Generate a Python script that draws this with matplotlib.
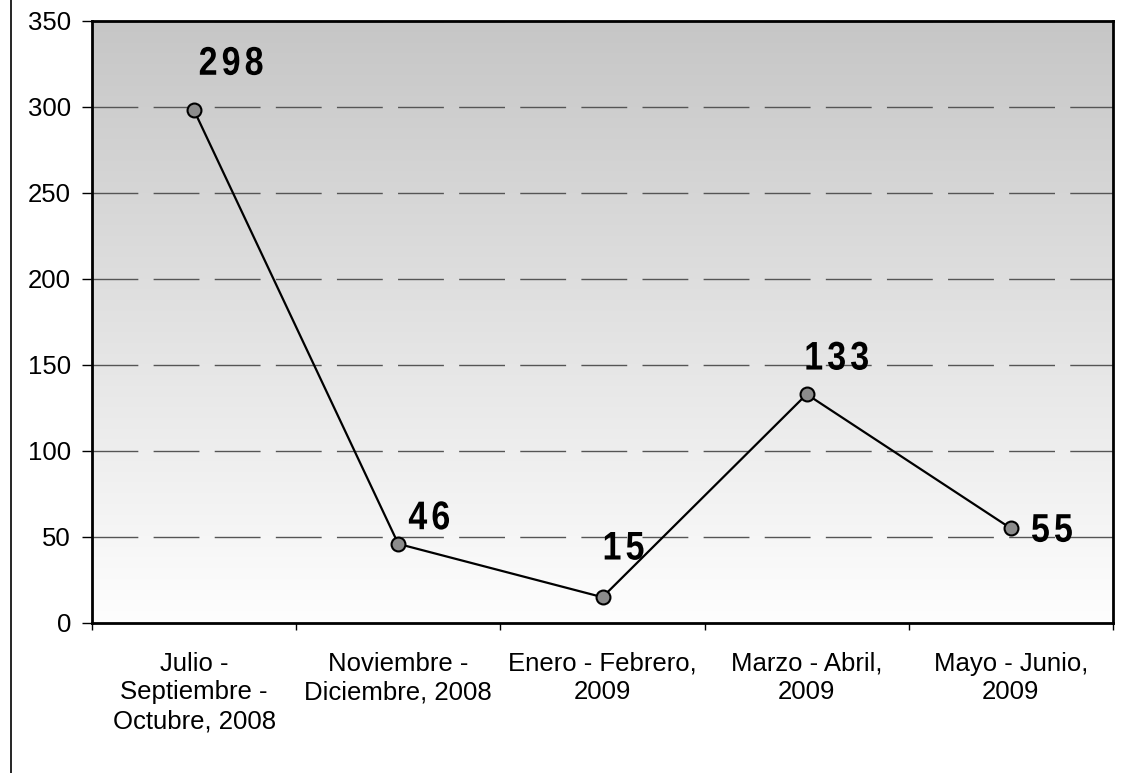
import numpy as np
import matplotlib
matplotlib.use("Agg")
import matplotlib.pyplot as plt
from matplotlib.lines import Line2D
from matplotlib.colors import LinearSegmentedColormap
from matplotlib.textpath import TextPath
from matplotlib.patches import PathPatch
from matplotlib.font_manager import FontProperties
from matplotlib.transforms import Affine2D, IdentityTransform

# ── Data ──────────────────────────────────────────────────────────────────────
categories = [
    "Julio -\nSeptiembre -\nOctubre, 2008",
    "Noviembre -\nDiciembre, 2008",
    "Enero - Febrero,\n2009",
    "Marzo - Abril,\n2009",
    "Mayo - Junio,\n2009",
]
values = [298, 46, 15, 133, 55]
# label centre offsets in pixels (dx right, dy up) relative to each point
label_offsets = [(37, 50), (31, 29), (21, 52), (30, 39), (41, 1)]

plt.rcParams["font.family"] = ["Liberation Sans", "DejaVu Sans"]

fig = plt.figure(figsize=(11.25, 7.73), dpi=100)
W, H = 1125, 773
left, right, top, bottom = 92, 1113, 21, 623
ax = fig.add_axes([left / W, 1 - bottom / H, (right - left) / W, (bottom - top) / H])

# gradient background (grey at top -> white at bottom)
cmap = LinearSegmentedColormap.from_list("bg", ["#fefefe", "#c6c6c6"])
grad = np.linspace(0, 1, 256).reshape(-1, 1)
ax.imshow(grad, cmap=cmap, aspect="auto", extent=[0, 1, 0, 1],
          origin="lower", transform=ax.transAxes, zorder=0)

ax.set_xlim(0, len(categories))
ax.set_ylim(0, 350)

# dashed gridlines
for yv in range(50, 351, 50):
    ax.axhline(yv, color="#555555", linewidth=1.0, dashes=(33, 11), zorder=1)

xs = np.arange(len(values)) + 0.5
ax.plot(xs, values, color="black", linewidth=1.6, zorder=3,
        marker="o", markersize=10, markerfacecolor="#8c8c8c",
        markeredgecolor="black", markeredgewidth=1.5)

ax.set_yticks(range(0, 351, 50))
ax.set_xticks(range(len(categories) + 1))
ax.set_xticklabels([])
for x, lab in zip(xs, categories):
    ax.text(x, -0.048, lab, transform=ax.get_xaxis_transform(),
            ha="center", va="top", fontsize=18.5, linespacing=1.24)

ax.tick_params(axis="y", labelsize=18.5, length=7, width=1, direction="out", pad=8)
ax.tick_params(axis="x", length=5, width=1, direction="out")
for s in ax.spines.values():
    s.set_linewidth(2)
    s.set_color("black")
    s.set_zorder(5)


# ── Value labels: condensed, letter-spaced bold digits ───────────────────────
fp = FontProperties(family="Liberation Sans", weight="bold")
EM, PITCH, SX = 40, 23, 0.85


def draw_label(text, cx, cy):
    """cx, cy: centre of the label in display pixels."""
    n = len(text)
    x0 = cx - n * PITCH / 2
    for i, ch in enumerate(text):
        tp = TextPath((0, 0), ch, size=EM, prop=fp)
        adv = 0.556 * EM * SX
        ox = x0 + i * PITCH + (PITCH - adv) / 2
        tr = (Affine2D().scale(SX, 1)
              .translate(ox, cy - 0.716 * EM / 2))
        fig.add_artist(PathPatch(tr.transform_path(tp), facecolor="black",
                                 edgecolor="none", transform=IdentityTransform(),
                                 zorder=6))


for x, v, (dx, dy) in zip(xs, values, label_offsets):
    px, py = ax.transData.transform((x, v))
    draw_label(str(v), px + dx, py + dy)

# outer left border line
fig.add_artist(Line2D([11 / W, 11 / W], [0, 1], color="black",
                      linewidth=1.2, transform=fig.transFigure))

fig.savefig("out.png", dpi=100)
